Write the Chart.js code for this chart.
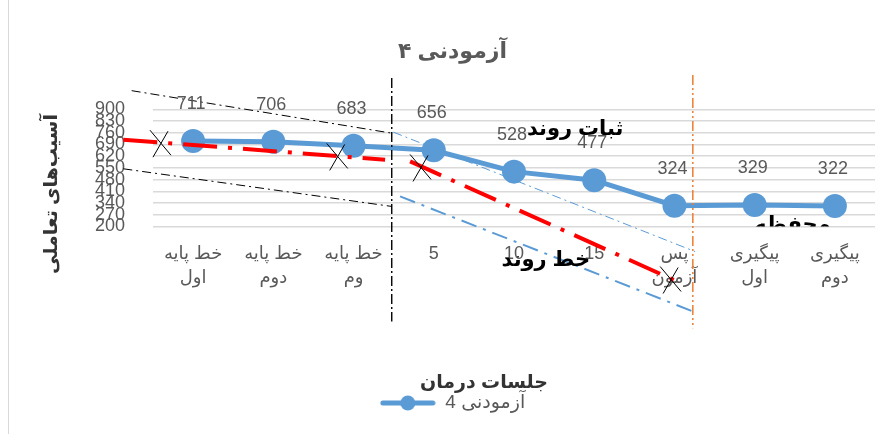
<!DOCTYPE html>
<html><head><meta charset="utf-8">
<script src="https://cdn.jsdelivr.net/npm/chart.js@4"></script>
<style>html,body{margin:0;padding:0;background:#fff}</style>
</head><body>
<canvas id="c" width="893" height="434"></canvas>
<script>
// ---- data ----
const categories = [['خط پایه','اول'],['خط پایه','دوم'],['خط پایه','وم'],'5','10','15',['پس','آزمون'],['پیگیری','اول'],['پیگیری','دوم']];
const seriesName = 'آزمودنی 4';
const values = [711,706,683,656,528,477,324,329,322];
const yTicks = [200,270,340,410,480,550,620,690,760,830,900];
const chartTitle = 'آزمودنی ۴';
const xTitle = 'جلسات درمان';
const yTitle = 'آسیب‌های تعاملی';
// drawn annotations, in data units: [category index, value]
const baselineTrend = [[-0.87,719],[2.393,599]];
const treatmentTrend = [[2.705,589],[6.112,-145]];
const crossMarks = [[-0.413,698],[1.79,619],[2.829,553],[5.946,-117]];
const envelopeUpper = [[-0.766,1012],[2.476,758]];
const envelopeLower = [[-0.87,545],[2.476,320]];
const phaseLine1 = [[2.476,1087],[2.476,-368]];
const phaseLine2 = [[6.229,1105],[6.229,-408]];
const bandUpper = [[2.496,764],[6.258,50]];
const bandLower = [[2.58,380],[6.258,-313]];
const noteTexts = ['ثبات روند','خط روند','محفظه'];
const noteAt = [[4.762,779],[4.397,0],[7.471,206]];

// ---- styles ----
const FONT = "'Liberation Sans','DejaVu Sans',sans-serif";
const BLUE = '#5B9BD5';
const GRAY = '#595959';

function legendSymbol(){
  const c = document.createElement('canvas');
  c.width = 56; c.height = 18;
  const g = c.getContext('2d');
  g.strokeStyle = BLUE; g.lineWidth = 5; g.lineCap = 'round';
  g.beginPath(); g.moveTo(3,9); g.lineTo(53,9); g.stroke();
  g.fillStyle = BLUE; g.beginPath(); g.arc(28,9,7.5,0,Math.PI*2); g.fill();
  return c;
}

const annot = {
  id: 'annot',
  beforeDraw(chart){
    const ctx = chart.ctx;
    ctx.save();
    ctx.strokeStyle = '#d9d9d9'; ctx.lineWidth = 1;
    ctx.beginPath(); ctx.moveTo(8.5,0); ctx.lineTo(8.5,434); ctx.stroke();
    ctx.restore();
  },
  afterDatasetsDraw(chart){
    const ctx = chart.ctx, xs = chart.scales.x, ys = chart.scales.y, ca = chart.chartArea;
    const P = p => [xs.getPixelForValue(p[0]), ys.getPixelForValue(p[1])];
    function seg(pts, color, width, dash){
      const a = P(pts[0]), b = P(pts[1]);
      ctx.save(); ctx.strokeStyle = color; ctx.lineWidth = width; ctx.setLineDash(dash); ctx.lineCap='butt';
      ctx.beginPath(); ctx.moveTo(a[0],a[1]); ctx.lineTo(b[0],b[1]); ctx.stroke(); ctx.restore();
    }
    seg(envelopeUpper,'#000',1,[9,4,2,4]);
    seg(envelopeLower,'#000',1,[9,4,2,4]);
    seg(phaseLine1,'#000',1.4,[10,3,2,3]);
    seg(phaseLine2,'#ED7D31',1.5,[10,3,2,3,2,3]);
    seg(bandUpper,BLUE,1,[9,4,2,4]);
    seg(bandLower,BLUE,2,[16,7,3,7]);
    seg(baselineTrend,'#FF0000',4,[34,11,4,11]);
    seg(treatmentTrend,'#FF0000',4,[34,11,4,11]);
    ctx.save(); ctx.strokeStyle='#000'; ctx.lineWidth=1;
    crossMarks.forEach(m=>{
      const [x,y] = P(m);
      ctx.beginPath();
      ctx.moveTo(x-10,y-13); ctx.lineTo(x+11,y+12);
      ctx.moveTo(x+8,y-12); ctx.lineTo(x-7,y+14);
      ctx.stroke();
    });
    ctx.restore();
    // data labels
    const meta = chart.getDatasetMeta(0);
    ctx.save(); ctx.fillStyle = GRAY; ctx.font = '18px '+FONT; ctx.textAlign='center'; ctx.textBaseline='middle';
    meta.data.forEach((pt,i)=>{ ctx.fillText(String(values[i]), pt.x-2, pt.y-37); });
    ctx.restore();
    // notes
    noteTexts.forEach((t,i)=>{
      const [x,y] = P(noteAt[i]);
      ctx.save();
      if (i===2){ ctx.beginPath(); ctx.rect(ca.left, ca.top, ca.right-ca.left, ca.bottom-ca.top); ctx.clip(); }
      ctx.fillStyle='#000'; ctx.font='bold 21px '+FONT; ctx.textAlign='center'; ctx.textBaseline='middle';
      ctx.fillText(t,x,y); ctx.restore();
    });
  },
  afterDraw(chart){
    const ctx = chart.ctx;
    ctx.save();
    ctx.fillStyle = '#333'; ctx.font = 'bold 19px '+FONT; ctx.textAlign='center'; ctx.textBaseline='middle';
    ctx.fillText(xTitle, 484, 383);
    ctx.translate(52, 194); ctx.rotate(-Math.PI/2);
    ctx.fillText(yTitle, 0, 0);
    ctx.restore();
  }
};

new Chart(document.getElementById('c'), {
  type: 'line',
  data: {
    labels: categories,
    datasets: [{
      label: seriesName,
      data: values,
      borderColor: BLUE,
      backgroundColor: BLUE,
      borderWidth: 5,
      pointRadius: 12,
      pointHoverRadius: 12,
      pointBackgroundColor: BLUE,
      pointBorderWidth: 0,
      tension: 0,
      clip: false
    }]
  },
  options: {
    responsive: false,
    animation: false,
    events: [],
    layout: { padding: { top: 0, left: 30, right: 18, bottom: 11.5 } },
    plugins: {
      title: { display: true, text: chartTitle, color: GRAY, font: { family: FONT, size: 22, weight: 'bold' }, padding: { top: 39, bottom: 44 } },
      legend: {
        position: 'bottom',
        labels: { usePointStyle: true, pointStyle: legendSymbol(), pointStyleWidth: 56, color: GRAY, font: { family: FONT, size: 19 }, padding: 10 }
      },
      tooltip: { enabled: false }
    },
    scales: {
      x: {
        offset: true,
        grid: { display: false, drawTicks: false },
        border: { display: false },
        ticks: { color: GRAY, font: { family: FONT, size: 18, lineHeight: 1.35 }, padding: 15, autoSkip: false, maxRotation: 0, minRotation: 0 },
        afterFit: s => { s.height = 157; }
      },
      y: {
        min: 200, max: 900,
        afterBuildTicks: s => { s.ticks = yTicks.map(v => ({ value: v })); },
        grid: { color: '#d9d9d9', lineWidth: 1.5, drawTicks: false },
        border: { display: false },
        ticks: { color: GRAY, font: { family: FONT, size: 18 }, padding: 28, autoSkip: false },
        afterFit: s => { s.width = 123; }
      }
    }
  },
  plugins: [annot]
});
</script>
</body></html>
